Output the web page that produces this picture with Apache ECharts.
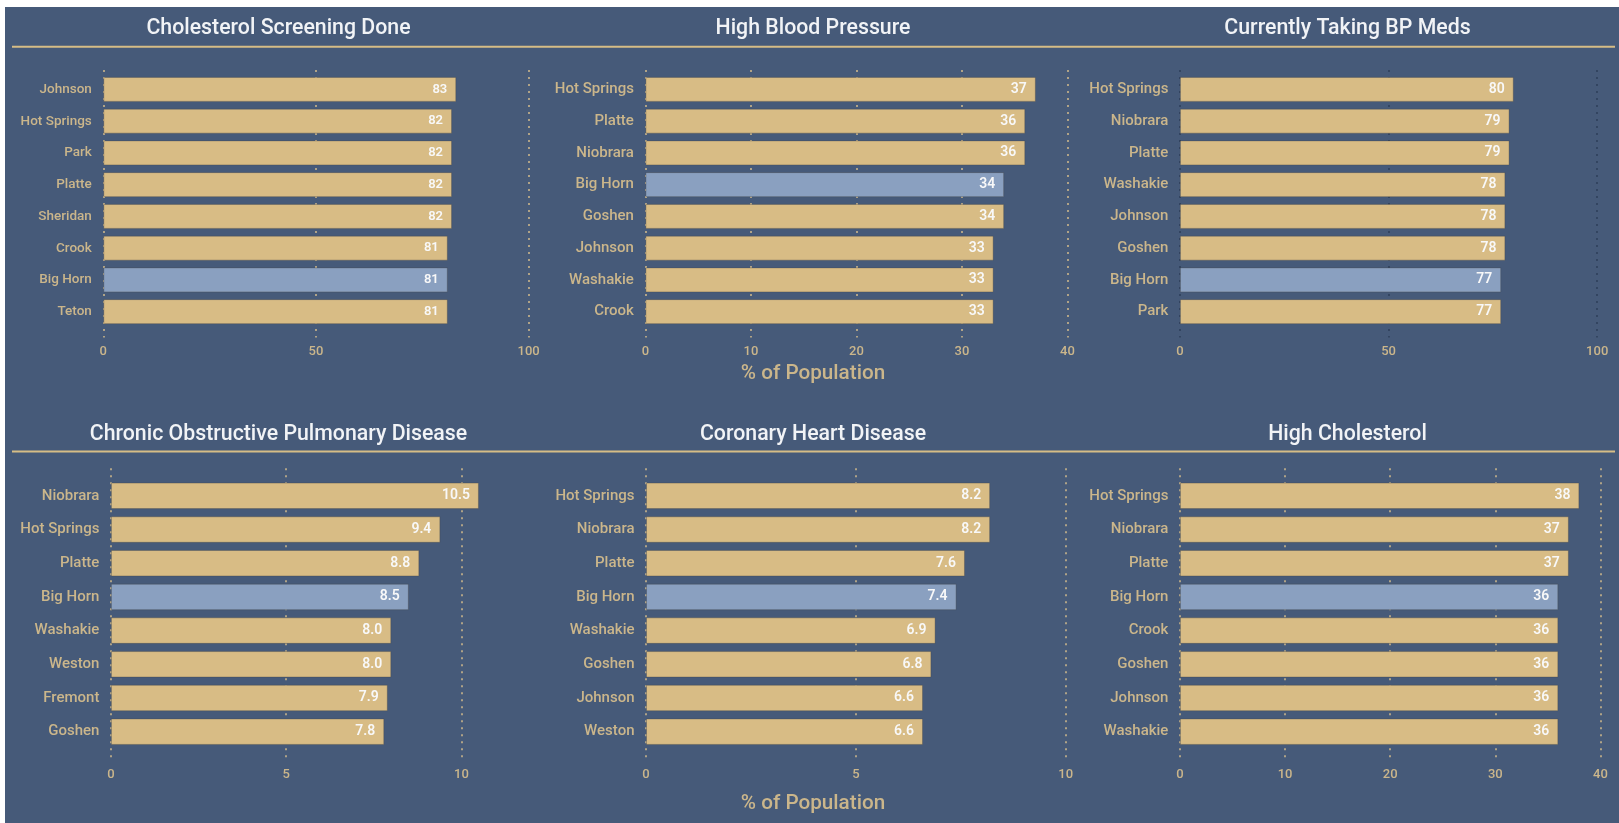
<!DOCTYPE html>
<html>
<head>
<meta charset="utf-8">
<title>County Health Indicators</title>
<script src="https://cdn.jsdelivr.net/npm/echarts@6/dist/echarts.min.js"></script>
<style>
  html, body { margin: 0; padding: 0; background: #ffffff; width: 1619px; height: 823px; overflow: hidden; }
  #chart { position: absolute; left: 5px; top: 7px; width: 1614px; height: 816px; }
</style>
</head>
<body>
<div id="chart"></div>
<script>
// ---- data -------------------------------------------------------------
const HIGHLIGHT = 'Big Horn';
const AXIS_TITLE = '% of Population';

const screeningTitle = 'Cholesterol Screening Done';
const screeningCounties = ['Johnson', 'Hot Springs', 'Park', 'Platte', 'Sheridan', 'Crook', 'Big Horn', 'Teton'];
const screeningValues = [83, 82, 82, 82, 82, 81, 81, 81];
const screeningTicks = [0, 50, 100];

const bpTitle = 'High Blood Pressure';
const bpCounties = ['Hot Springs', 'Platte', 'Niobrara', 'Big Horn', 'Goshen', 'Johnson', 'Washakie', 'Crook'];
const bpValues = [37, 36, 36, 34, 34, 33, 33, 33];
const bpTicks = [0, 10, 20, 30, 40];

const medsTitle = 'Currently Taking BP Meds';
const medsCounties = ['Hot Springs', 'Niobrara', 'Platte', 'Washakie', 'Johnson', 'Goshen', 'Big Horn', 'Park'];
const medsValues = [80, 79, 79, 78, 78, 78, 77, 77];
const medsTicks = [0, 50, 100];

const copdTitle = 'Chronic Obstructive Pulmonary Disease';
const copdCounties = ['Niobrara', 'Hot Springs', 'Platte', 'Big Horn', 'Washakie', 'Weston', 'Fremont', 'Goshen'];
const copdValues = [10.5, 9.4, 8.8, 8.5, 8.0, 8.0, 7.9, 7.8];
const copdTicks = [0, 5, 10];

const chdTitle = 'Coronary Heart Disease';
const chdCounties = ['Hot Springs', 'Niobrara', 'Platte', 'Big Horn', 'Washakie', 'Goshen', 'Johnson', 'Weston'];
const chdValues = [8.2, 8.2, 7.6, 7.4, 6.9, 6.8, 6.6, 6.6];
const chdTicks = [0, 5, 10];

const cholTitle = 'High Cholesterol';
const cholCounties = ['Hot Springs', 'Niobrara', 'Platte', 'Big Horn', 'Crook', 'Goshen', 'Johnson', 'Washakie'];
const cholValues = [38, 37, 37, 36, 36, 36, 36, 36];
const cholTicks = [0, 10, 20, 30, 40];

// ---- style ------------------------------------------------------------
const BG = '#465a79';
const GOLD = '#d8bc85';
const STEEL = '#8aa0c0';
const TAN_TEXT = '#cbb68b';
const TITLE_TEXT = '#f1f3f6';
const RULE = '#d6bd86';
const FONT = 'Roboto, "Noto Sans", "DejaVu Sans", sans-serif';

// container offset inside the page
const OX = 5, OY = 7;
const px = v => v - OX;
const py = v => v - OY;

// row geometry (page pixels)
const rows = [
  { titleY: 28.2, ruleY: 46.7, bandTop: 73.5, bandBottom: 327.5, gridTop: 70, gridBottom: 337.5, barWidth: 25, footerY: 374, labelMargin: 8 },
  { titleY: 434.5, ruleY: 451.5, bandTop: 479, bandBottom: 748.5, gridTop: 468.3, gridBottom: 759.3, barWidth: 26.5, footerY: 804, labelMargin: 9 }
];

// panel geometry (page pixels) paired with the data arrays above
const panels = [
  { title: screeningTitle, cats: screeningCounties, vals: screeningValues, ticks: screeningTicks, dec: 0, row: 0, cx: 278.5, x0: 103.3, x1: 528.6, dot: '#cbb68b', catSize: 13.5, valSize: 13 },
  { title: bpTitle, cats: bpCounties, vals: bpValues, ticks: bpTicks, dec: 0, row: 0, cx: 813, x0: 645.4, x1: 1067.5, dot: '#cbb68b', catSize: 15, valSize: 14 },
  { title: medsTitle, cats: medsCounties, vals: medsValues, ticks: medsTicks, dec: 0, row: 0, cx: 1347.5, x0: 1179.9, x1: 1597.2, dot: '#2f405b', catSize: 15, valSize: 14 },
  { title: copdTitle, cats: copdCounties, vals: copdValues, ticks: copdTicks, dec: 1, row: 1, cx: 278.5, x0: 110.9, x1: 461.4, dot: '#cbb68b', catSize: 15, valSize: 14 },
  { title: chdTitle, cats: chdCounties, vals: chdValues, ticks: chdTicks, dec: 1, row: 1, cx: 813, x0: 646, x1: 1065.7, dot: '#cbb68b', catSize: 15, valSize: 14 },
  { title: cholTitle, cats: cholCounties, vals: cholValues, ticks: cholTicks, dec: 0, row: 1, cx: 1347.5, x0: 1179.9, x1: 1600.4, dot: '#cbb68b', catSize: 15, valSize: 14 }
];

const grid = [], xAxis = [], yAxis = [], series = [], graphic = [];

panels.forEach((p, i) => {
  const r = rows[p.row];
  const tickMax = p.ticks[p.ticks.length - 1];
  const interval = p.ticks[1] - p.ticks[0];
  const gBars = 2 * i, gLines = 2 * i + 1;

  // grid holding the bars (category bands)
  grid.push({
    left: px(p.x0), width: p.x1 - p.x0,
    top: py(r.bandTop), height: r.bandBottom - r.bandTop,
    containLabel: false, outerBoundsMode: 'none'
  });
  // taller grid holding the dotted gridlines and tick labels
  grid.push({
    left: px(p.x0), width: p.x1 - p.x0,
    top: py(r.gridTop), height: r.gridBottom - r.gridTop,
    containLabel: false, outerBoundsMode: 'none'
  });

  xAxis.push({
    gridIndex: gBars, type: 'value', min: 0, max: tickMax, interval: interval,
    axisLine: { show: false }, axisTick: { show: false }, axisLabel: { show: false }, splitLine: { show: false }
  });
  xAxis.push({
    gridIndex: gLines, type: 'value', min: 0, max: tickMax, interval: interval,
    axisLine: { show: false }, axisTick: { show: false },
    axisLabel: { show: true, color: TAN_TEXT, fontFamily: FONT, fontWeight: 500, fontSize: 13, margin: r.labelMargin },
    splitLine: { show: true, lineStyle: { color: p.dot, width: 1.6, type: [2, 5] } }
  });

  yAxis.push({
    gridIndex: gBars, type: 'category', inverse: true, data: p.cats,
    axisLine: { show: false }, axisTick: { show: false }, splitLine: { show: false },
    axisLabel: { show: true, color: TAN_TEXT, fontFamily: FONT, fontWeight: 500, fontSize: p.catSize, margin: 11.5 }
  });
  yAxis.push({
    gridIndex: gLines, type: 'value', show: false, min: 0, max: 1
  });

  series.push({
    type: 'bar', xAxisIndex: gBars, yAxisIndex: gBars,
    barWidth: r.barWidth, clip: false,
    data: p.vals.map((v, k) => ({
      value: v,
      itemStyle: { color: p.cats[k] === HIGHLIGHT ? STEEL : GOLD }
    })),
    itemStyle: { borderColor: 'rgba(70,70,70,0.35)', borderWidth: 1 },
    label: {
      show: true, position: 'insideRight', distance: 9,
      color: '#f8f8f8', fontFamily: FONT, fontWeight: 600, fontSize: p.valSize,
      formatter: d => Number(d.value).toFixed(p.dec)
    },
    emphasis: { disabled: true },
    silent: true
  });

  graphic.push({
    type: 'text', x: px(p.cx), y: py(r.titleY), silent: true,
    style: {
      text: p.title, fill: TITLE_TEXT, font: '500 21.3px ' + FONT,
      align: 'center', verticalAlign: 'middle', textAlign: 'center', textVerticalAlign: 'middle'
    }
  });
});

rows.forEach(r => {
  graphic.push({
    type: 'line', silent: true,
    shape: { x1: px(12), y1: py(r.ruleY), x2: px(1615), y2: py(r.ruleY) },
    style: { stroke: RULE, lineWidth: 2 }
  });
  graphic.push({
    type: 'text', x: px(813), y: py(r.footerY), silent: true,
    style: {
      text: AXIS_TITLE, fill: TAN_TEXT, font: '500 20.7px ' + FONT,
      align: 'center', verticalAlign: 'middle', textAlign: 'center', textVerticalAlign: 'middle'
    }
  });
});

const chart = echarts.init(document.getElementById('chart'), null, { renderer: 'canvas' });
chart.setOption({
  backgroundColor: BG,
  animation: false,
  grid, xAxis, yAxis, series, graphic
});
</script>
</body>
</html>
